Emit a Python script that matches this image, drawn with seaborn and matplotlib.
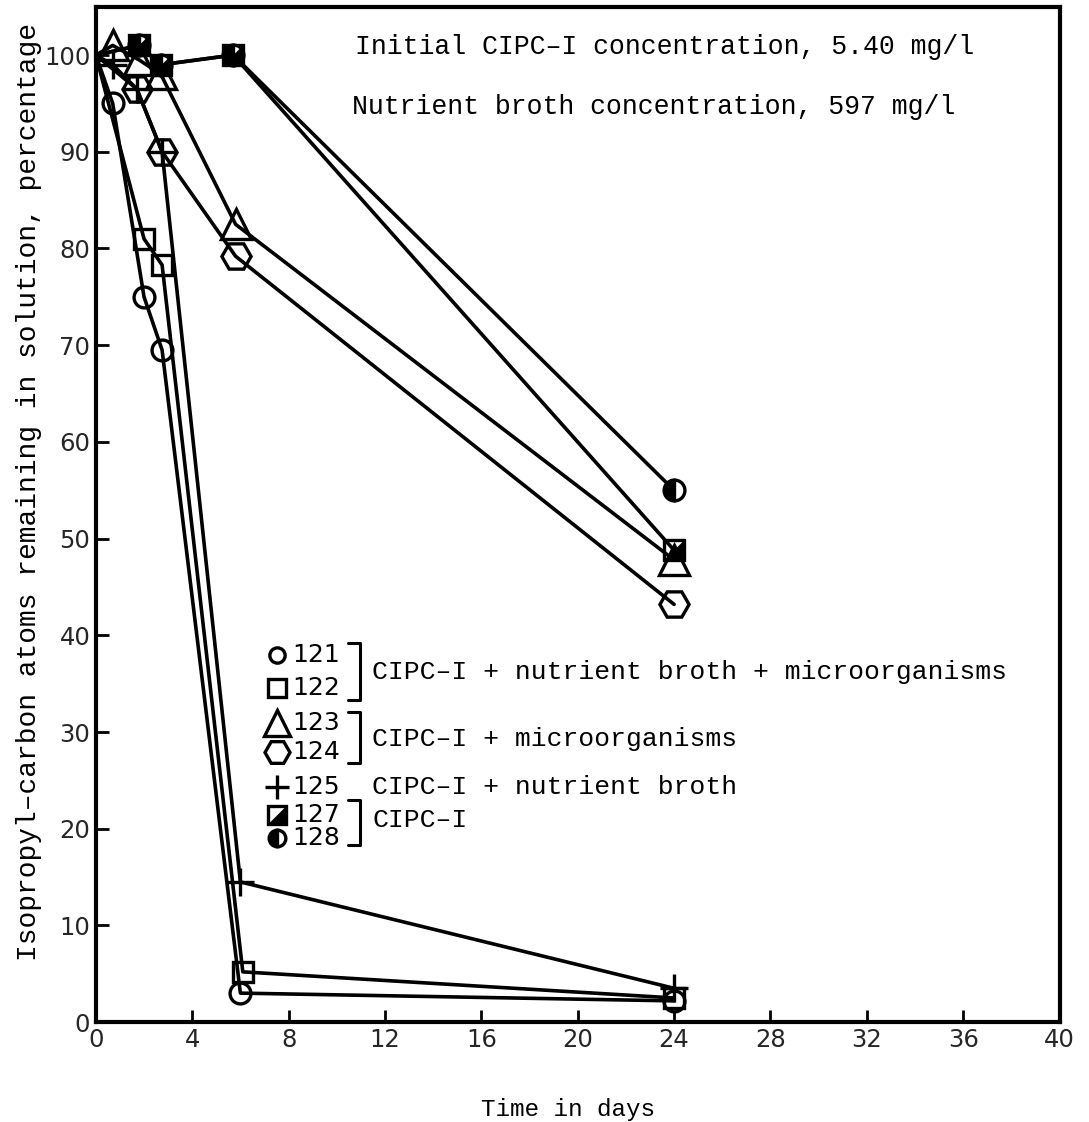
import numpy as np
import pandas as pd
import matplotlib
matplotlib.use("Agg")
import matplotlib.pyplot as plt
from matplotlib.path import Path
from matplotlib.lines import Line2D
import seaborn as sns

# Time (days) and percentage of isopropyl-carbon atoms remaining, per flask
days_121 = [0, 0.7, 2.0, 2.75, 6.0, 24]
pct_121 = [100, 95.0, 75.0, 69.5, 3.0, 2.2]

days_122 = [0, 2.0, 2.75, 6.1, 24]
pct_122 = [100, 81.0, 78.3, 5.2, 2.5]

days_123 = [0, 0.7, 1.8, 2.7, 5.8, 24]
pct_123 = [100, 101.0, 99.5, 98.0, 82.5, 47.8]

days_124 = [0, 1.7, 2.75, 5.8, 24]
pct_124 = [100, 96.5, 90.0, 79.2, 43.2]

days_125 = [0, 0.7, 1.7, 2.75, 6.0, 24]
pct_125 = [100, 99.0, 96.5, 90.0, 14.5, 3.5]

days_127 = [0, 1.8, 2.7, 5.7, 24]
pct_127 = [100, 101.0, 99.0, 100.0, 48.8]

days_128 = [0, 1.8, 2.7, 5.7, 24]
pct_128 = [100, 101.0, 99.0, 100.0, 55.0]

flask_ids = ["121", "122", "123", "124", "125", "127", "128"]
x_ticks = [0, 4, 8, 12, 16, 20, 24, 28, 32, 36, 40]
y_ticks = [0, 10, 20, 30, 40, 50, 60, 70, 80, 90, 100]

header_lines = ["Initial CIPC\u2012I concentration, 5.40 mg/l",
                "Nutrient broth concentration, 597 mg/l"]
group_labels = ["CIPC\u2012I + nutrient broth + microorganisms",
                "CIPC\u2012I + microorganisms",
                "CIPC\u2012I + nutrient broth",
                "CIPC\u2012I"]

series = {
    "121": (days_121, pct_121),
    "122": (days_122, pct_122),
    "123": (days_123, pct_123),
    "124": (days_124, pct_124),
    "125": (days_125, pct_125),
    "127": (days_127, pct_127),
    "128": (days_128, pct_128),
}
frames = []
for fid in flask_ids:
    d, p = series[fid]
    frames.append(pd.DataFrame({"flask": fid, "day": d, "pct": p}))
df = pd.concat(frames, ignore_index=True)

sns.set_theme(style="white")
plt.rcParams["font.family"] = ["Liberation Mono", "DejaVu Sans"]

# lower-right half of a square, overlaid on the open square of flask 127
half_square = Path([(-1, -1), (1, -1), (1, 1), (-1, -1)],
                   [Path.MOVETO, Path.LINETO, Path.LINETO, Path.CLOSEPOLY])

marker_style = {
    "121": dict(marker="o", ms=15, fillstyle="none"),
    "122": dict(marker="s", ms=15, fillstyle="none"),
    "123": dict(marker="^", ms=21, fillstyle="none"),
    "124": dict(marker="H", ms=21, fillstyle="none"),
    "125": dict(marker="+", ms=20),
    "127": dict(marker="s", ms=15, fillstyle="none"),
    "128": dict(marker="o", ms=15, fillstyle="left", mfc="black",
                mfcalt="white"),
}

fig = plt.figure(figsize=(10.89, 11.22), dpi=100)
ax = fig.add_axes([0.088, 0.089, 0.885, 0.905])

for fid in flask_ids:
    sub = df[df["flask"] == fid]
    st = marker_style[fid]
    sns.lineplot(data=sub, x="day", y="pct", ax=ax, color="black",
                 lw=2.6, estimator=None, sort=False, markevery=slice(1, None),
                 mec="black", mew=2.4, **st)

sub127 = df[(df["flask"] == "127") & (df["day"] > 0)]
sns.lineplot(data=sub127, x="day", y="pct", ax=ax, color="black",
             linestyle="", marker=half_square, ms=15, mfc="black",
             mec="black", mew=0.5, estimator=None, sort=False)

ax.set_xlim(0, 40)
ax.set_ylim(0, 105)
ax.set_xticks(x_ticks)
ax.set_yticks(y_ticks)
tick_font = dict(family="DejaVu Sans", size=17.5)
ax.set_xticklabels([str(t) for t in x_ticks], fontdict=tick_font)
ax.set_yticklabels([str(t) for t in y_ticks], fontdict=tick_font)
ax.tick_params(direction="in", length=9, width=2, color="black",
               pad=4, bottom=True, left=True)
for sp in ax.spines.values():
    sp.set_color("black")
    sp.set_linewidth(3)

ax.set_xlabel("Time in days", fontsize=17.5, color="black")
ax.xaxis.set_label_coords(0.49, -0.075)
ax.set_ylabel("Isopropyl\u2012carbon atoms remaining in solution, percentage",
              fontsize=20.2, color="black")
ax.yaxis.set_label_coords(-0.056, 0.522)

ax.text(0.269, 0.96, header_lines[0], transform=ax.transAxes,
        fontsize=19.1, va="center", ha="left", color="black")
ax.text(0.266, 0.901, header_lines[1], transform=ax.transAxes,
        fontsize=19.1, va="center", ha="left", color="black")

# key: marker, flask number, brackets and treatment
row_y = [0.3616, 0.329, 0.2946, 0.266, 0.2315, 0.204, 0.181]
key_x = 0.188
num_x = 0.204
legend_ms = {"121": 11, "122": 13, "123": 19, "124": 18, "125": 17,
             "127": 13, "128": 12}
for fid, yy in zip(flask_ids, row_y):
    st = dict(marker_style[fid])
    st["ms"] = legend_ms[fid]
    ax.add_line(Line2D([key_x], [yy], transform=ax.transAxes, color="black",
                       mec="black", mew=2.4, linestyle="", **st))
    if fid == "127":
        ax.add_line(Line2D([key_x], [yy], transform=ax.transAxes,
                           linestyle="", marker=half_square,
                           ms=legend_ms[fid], mfc="black", mec="black",
                           mew=0.5))
    ax.text(num_x, yy, fid, transform=ax.transAxes, family="DejaVu Sans",
            fontsize=18, va="center", ha="left", color="black")

bx = 0.274
brackets = [(0.373, 0.317), (0.305, 0.255), (0.219, 0.174)]
for top, bot in brackets:
    ax.add_line(Line2D([bx - 0.012, bx, bx, bx - 0.012], [top, top, bot, bot],
                       transform=ax.transAxes, color="black", lw=2.2))

grp_x = 0.287
grp_y = [0.345, 0.2785, 0.2315, 0.199]
for txt, yy in zip(group_labels, grp_y):
    ax.text(grp_x, yy, txt, transform=ax.transAxes, fontsize=19,
            va="center", ha="left", color="black")

fig.savefig("out.png", dpi=100, facecolor="white")
